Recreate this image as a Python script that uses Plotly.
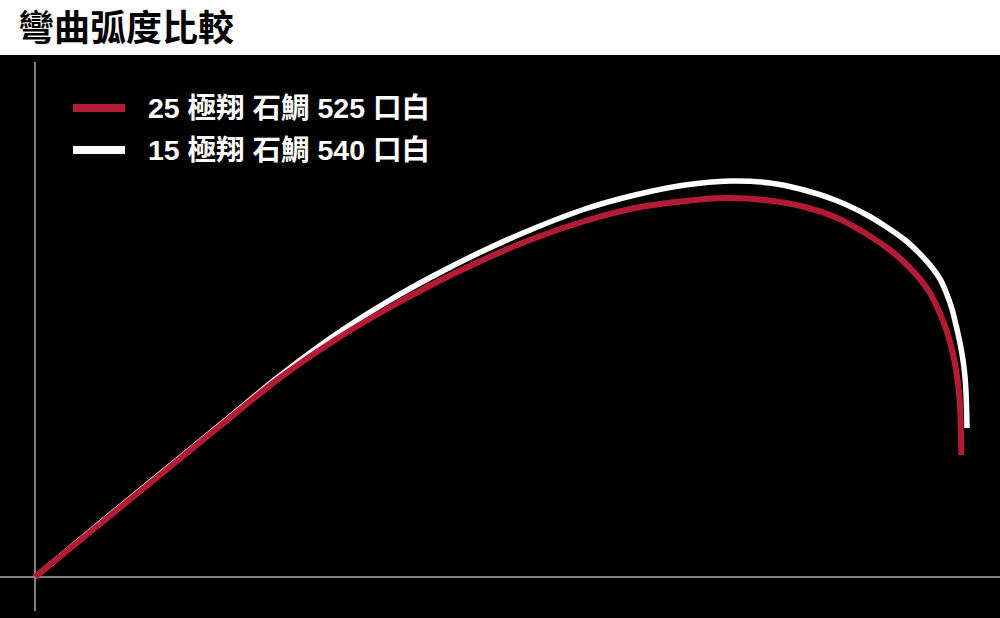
import plotly.graph_objects as go

# 彎曲弧度 (相對座標)
rod_names = ["25 極翔 石鯛 525 口白", "15 極翔 石鯛 540 口白"]
rod_colors = ["#B31B34", "#FFFFFF"]

red_x = [0, 65, 125, 185, 242, 300, 350, 400, 450, 500, 550, 600, 650, 690,
         730, 770, 800, 830, 855, 870, 885, 895, 903, 910, 915, 919, 922,
         924, 925.3, 926, 926.3]
red_y = [0, 53, 102, 151, 197, 237, 267, 294, 318, 339, 356, 369, 376, 379,
         377, 370, 360, 344, 327, 314, 298, 284, 268, 251, 235, 218, 201,
         184, 165, 142, 122]

white_x = [0, 65, 125, 185, 242, 300, 350, 400, 450, 500, 550, 600, 650, 695,
           735, 765, 800, 832, 850, 870, 882, 895, 905, 911, 917, 921, 925,
           928, 930, 931.3, 932]
white_y = [0, 54, 103, 152, 199, 242, 274, 302, 327, 349, 368, 382, 392, 396,
           394, 388, 377, 362, 351, 337, 326, 312, 298, 285, 268, 252, 234,
           217, 200, 178, 149]

curves = {
    rod_names[1]: (white_x, white_y, rod_colors[1], 5.5),
    rod_names[0]: (red_x, red_y, rod_colors[0], 6),
}

fig = go.Figure()

# 白線先畫, 紅線在上
for name, (xs, ys, color, width) in curves.items():
    fig.add_trace(
        go.Scatter(
            x=xs,
            y=ys,
            mode="lines",
            name=name,
            line=dict(color=color, width=width, shape="spline", smoothing=0.8),
            showlegend=False,
            hoverinfo="skip",
        )
    )

fig.update_layout(
    width=1000,
    height=618,
    margin=dict(l=0, r=0, t=55, b=0),
    paper_bgcolor="white",
    plot_bgcolor="black",
    title=dict(
        text="<b>彎曲弧度比較</b>",
        font=dict(family="Noto Sans CJK TC", size=36, color="black"),
        xref="container",
        yref="container",
        x=0.018,
        y=1 - 28 / 618,
        xanchor="left",
        yanchor="middle",
    ),
    showlegend=False,
)

fig.update_xaxes(range=[-35, 965], showgrid=False, zeroline=False, showticklabels=False, showline=False)
fig.update_yaxes(range=[-41, 522], showgrid=False, zeroline=True, zerolinecolor="#808080",
                 zerolinewidth=2, showticklabels=False, showline=False)

# 縱軸線
fig.add_shape(type="line", xref="x", yref="paper", x0=0, x1=0,
              y0=7 / 563, y1=556 / 563, line=dict(color="#808080", width=2), layer="below")

# 自訂圖例
for row, i in enumerate([0, 1]):
    ypos = (618 - (108 + 42 * row)) / 563
    fig.add_shape(type="line", xref="paper", yref="paper", x0=0.073, x1=0.125,
                  y0=ypos, y1=ypos, line=dict(color=rod_colors[i], width=8))
    fig.add_annotation(
        text="<b>" + rod_names[i] + "</b>",
        xref="paper", yref="paper", x=0.146, y=ypos,
        xanchor="left", yanchor="middle", showarrow=False,
        font=dict(family="Liberation Sans, Noto Sans CJK TC", size=28.5, color="white"),
    )

fig.write_html(
    "out.html",
    config={"displayModeBar": False},
    post_script="document.body.style.margin='0';",
)
